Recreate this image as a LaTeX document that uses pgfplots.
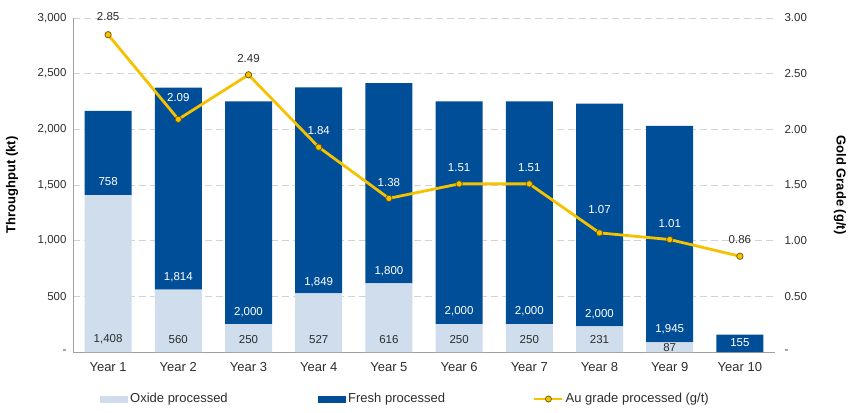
\documentclass[border=0pt]{standalone}
\usepackage{fontspec}
\setmainfont{Liberation Sans}
\usepackage{pgfplots}
\pgfplotsset{compat=1.18}
\usepackage{pgfplotstable}
\definecolor{oxide}{RGB}{207,221,236}
\definecolor{fresh}{RGB}{0,78,152}
\definecolor{gold}{RGB}{245,193,0}
\definecolor{golddark}{RGB}{110,85,0}
\definecolor{txt}{RGB}{45,45,45}

\pgfplotstableread{
x oxide fresh au
0 1408 758 2.85
1 560 1814 2.09
2 250 2000 2.49
3 527 1849 1.84
4 616 1800 1.38
5 250 2000 1.51
6 250 2000 1.51
7 231 2000 1.07
8 87 1945 1.01
9 0 155 0.86
}\maindata

\pgfplotstableread{
x y label
0 115 1,408
1 115 560
2 115 250
3 115 527
4 115 616
5 115 250
6 115 250
7 115 231
8 40 87
}\oxidelabels

\pgfplotstableread{
x y label
0 1527 758
1 673 1,814
2 359 2,000
3 629 1,849
4 727 1,800
5 365 2,000
6 365 2,000
7 341 2,000
8 206 1,945
9 81 155
}\freshlabels

\pgfplotstableread{
x y label
1 2.29 2.09
3 1.99 1.84
4 1.52 1.38
5 1.66 1.51
6 1.66 1.51
7 1.28 1.07
8 1.15 1.01
}\aulabelsW

\pgfplotstableread{
x y label
0 3.01 2.85
2 2.64 2.49
9 1.01 0.86
}\aulabelsB

\pgfplotsset{base/.style={scale only axis, width=702pt, height=334pt, xmin=-0.5, xmax=9.5},
  aulegend/.style={legend image code/.code={\draw[mark repeat=2,mark phase=2,##1,sharp plot] plot coordinates {(0pt,0pt)(14pt,0pt)(28pt,0pt)};}}}
\newcommand{\tickfont}{\fontsize{11.5}{13}\selectfont}
\newcommand{\bigfont}{\fontsize{13}{15}\selectfont}

\begin{document}
\begin{tikzpicture}
\begin{axis}[base, ymin=0, ymax=3000, ybar stacked, bar width=47pt,
  axis x line*=bottom, axis y line*=left,
  axis line style={draw=gray!75, line width=0.8pt},
  major tick length=0pt,
  xtick={0,...,9},
  xticklabels={Year 1,Year 2,Year 3,Year 4,Year 5,Year 6,Year 7,Year 8,Year 9,Year 10},
  ytick={0,500,1000,1500,2000,2500,3000},
  yticklabels={-,500,{1,000},{1,500},{2,000},{2,500},{3,000}},
  ymajorgrids, grid style={gray!35, dash pattern=on 7pt off 4pt, line width=0.8pt},
  x tick label style={font=\bigfont, text=txt, yshift=-7pt},
  y tick label style={font=\tickfont, text=txt, xshift=-3pt},
  ylabel={Throughput (kt)},
  ylabel style={font=\bfseries\bigfont, at={(axis description cs:0,0.5)}, anchor=center, yshift=61pt},
  legend columns=3,
  legend cell align=left,
  legend style={at={(axis description cs:0,0)}, anchor=west, xshift=27pt, yshift=-47pt,
    draw=none, fill=none, inner sep=0pt, font=\bigfont, text=txt,
    /tikz/every even column/.append style={column sep=0pt}},
]
\addplot[fill=oxide, draw=none,
  legend image code/.code={\fill[oxide] (0pt,-3.5pt) rectangle (28pt,3.5pt);}]
  table[x=x,y=oxide]{\maindata};
\addlegendentry{\makebox[186pt][l]{Oxide processed}}
\addplot[fill=fresh, draw=none,
  legend image code/.code={\fill[fresh] (0pt,-3.5pt) rectangle (28pt,3.5pt);}]
  table[x=x,y=fresh]{\maindata};
\addlegendentry{\makebox[183pt][l]{Fresh processed}}
\addlegendimage{gold, line width=2.5pt, mark=*, mark size=3pt,
  mark options={fill=gold, draw=golddark, line width=0.7pt}, aulegend}
\addlegendentry{Au grade processed (g/t)}
\end{axis}

\begin{axis}[base, ymin=0, ymax=3, axis x line=none, axis y line*=right,
  y axis line style={draw=none}, major tick length=0pt,
  ytick={0,0.5,1,1.5,2,2.5,3},
  yticklabels={-,0.50,1.00,1.50,2.00,2.50,3.00},
  y tick label style={font=\tickfont, text=txt, xshift=6pt},
  ylabel={Gold Grade (g/t)},
  ylabel style={font=\bfseries\bigfont, rotate=180, at={(axis description cs:1,0.5)}, anchor=center, yshift=65pt},
  clip=false]
\addplot[gold, line width=2.8pt, mark=*, mark size=3.2pt,
  mark options={fill=gold, draw=golddark, line width=0.7pt}]
  table[x=x,y=au]{\maindata};
\addplot[draw=none, nodes near coords, point meta=explicit symbolic,
  every node near coord/.append style={anchor=center, font=\tickfont, text=white}]
  table[x=x,y=y,meta=label]{\aulabelsW};
\addplot[draw=none, nodes near coords, point meta=explicit symbolic,
  every node near coord/.append style={anchor=center, font=\tickfont, text=txt}]
  table[x=x,y=y,meta=label]{\aulabelsB};
\end{axis}

\begin{axis}[base, ymin=0, ymax=3000, hide axis, clip=false]
\addplot[draw=none, nodes near coords, point meta=explicit symbolic,
  every node near coord/.append style={anchor=center, font=\tickfont, text=txt}]
  table[x=x,y=y,meta=label]{\oxidelabels};
\addplot[draw=none, nodes near coords, point meta=explicit symbolic,
  every node near coord/.append style={anchor=center, font=\tickfont, text=white}]
  table[x=x,y=y,meta=label]{\freshlabels};
\end{axis}

\pgfresetboundingbox
\path[use as bounding box] (-73pt,-60pt) rectangle (777pt,352pt);
\end{tikzpicture}
\end{document}
